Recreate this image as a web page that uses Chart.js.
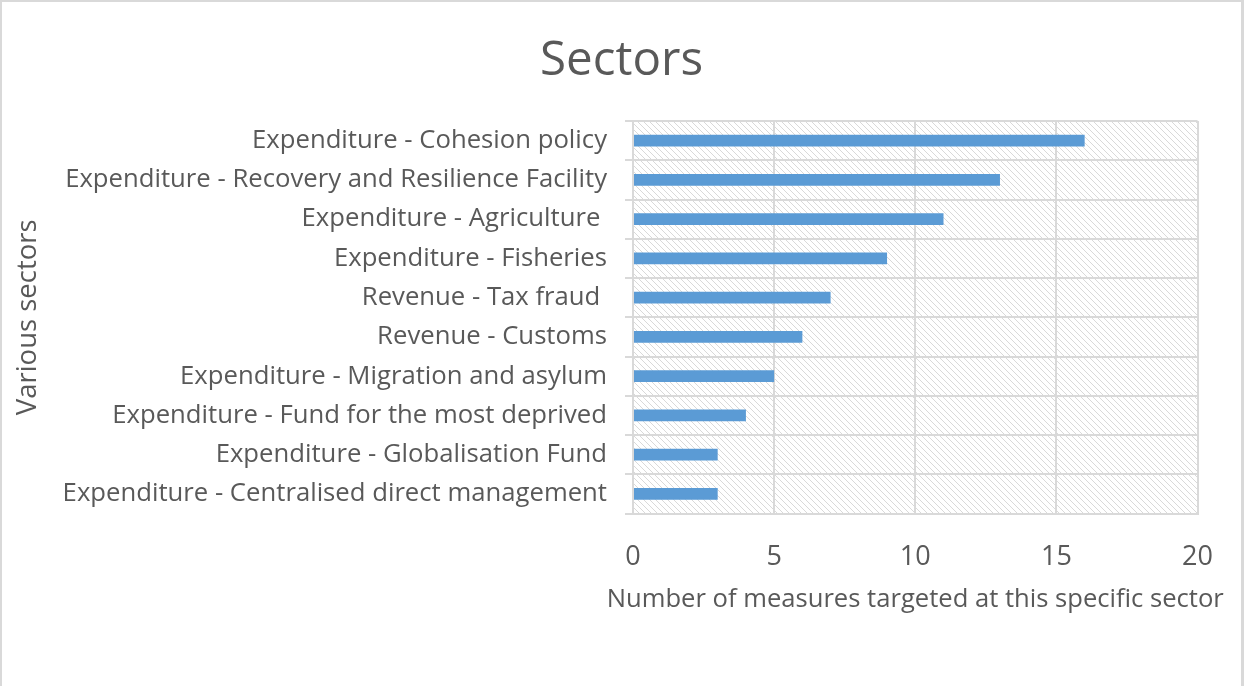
<!DOCTYPE html>
<html>
<head>
<meta charset="utf-8">
<script src="https://cdn.jsdelivr.net/npm/chart.js@4"></script>
<style>
  html, body { margin: 0; padding: 0; background: #fff; }
  .box { width: 1244px; height: 686px; box-sizing: border-box; border: 2px solid #d9d9d9; border-right-width: 3px; border-bottom: none; }
</style>
</head>
<body>
<div class="box"><canvas class="sectors"></canvas></div>
<script>
var sectors = [
  'Expenditure - Cohesion policy',
  'Expenditure - Recovery and Resilience Facility',
  'Expenditure - Agriculture ',
  'Expenditure - Fisheries',
  'Revenue - Tax fraud ',
  'Revenue - Customs',
  'Expenditure - Migration and asylum',
  'Expenditure - Fund for the most deprived',
  'Expenditure - Globalisation Fund',
  'Expenditure - Centralised direct management'
]
var measures = [16, 13, 11, 9, 7, 6, 5, 4, 3, 3]
var xTicks = [0, 5, 10, 15, 20]
var xTitle = 'Number of measures targeted at this specific sector'

var FONT = '"Open Sans", sans-serif'
var GREY = '#595959'
var LINE = '#d9d9d9'

// diagonal hatch behind the bars, like the excel plot area fill
function hatch() {
  var c = document.createElement('canvas')
  c.width = 6; c.height = 6
  var g = c.getContext('2d')
  g.strokeStyle = '#d9d9d9'
  g.lineWidth = 1
  g.beginPath()
  g.moveTo(0, 0); g.lineTo(6, 6)
  g.moveTo(-3, 3); g.lineTo(3, 9)
  g.moveTo(3, -3); g.lineTo(9, 3)
  g.stroke()
  return g.createPattern(c, 'repeat')
}

var plotFill = {
  id: 'plotFill',
  afterLayout: function(chart) {
    // center the title on the whole canvas, not on the padded box
    var t = chart.titleBlock
    if (t) { t.left = 0; t.right = chart.width; t.width = chart.width }
  },
  beforeDraw: function(chart) {
    var a = chart.chartArea, ctx = chart.ctx
    ctx.save()
    ctx.fillStyle = hatch()
    ctx.fillRect(a.left, a.top, a.right - a.left, a.bottom - a.top)
    ctx.restore()
  },
  afterDraw: function(chart) {
    // x title is wider than the plot in excel, chart.js would squeeze it
    var a = chart.chartArea, ctx = chart.ctx
    ctx.save()
    ctx.fillStyle = GREY
    ctx.font = '25.6px ' + FONT
    ctx.textAlign = 'center'
    ctx.textBaseline = 'middle'
    ctx.fillText(xTitle, (a.left + a.right) / 2, chart.scales.x.bottom - 2)
    ctx.restore()
  }
}

var ctx = document.querySelector('canvas.sectors').getContext('2d')
var chart = new Chart(ctx, {
  type: 'bar',
  data: {
    labels: sectors,
    datasets: [{
      data: measures,
      backgroundColor: '#5b9bd5',
      borderWidth: 0,
      categoryPercentage: 0.3,
      barPercentage: 1
    }]
  },
  options: {
    indexAxis: 'y',
    responsive: true,
    maintainAspectRatio: false,
    animation: false,
    layout: { padding: { top: 10, right: 40, bottom: 84, left: 6 } },
    plugins: {
      legend: { display: false },
      tooltip: { enabled: false },
      title: {
        display: true,
        text: 'Sectors',
        color: GREY,
        font: { family: FONT, size: 47.5, weight: 'normal' },
        padding: { top: 21, bottom: 31 }
      }
    },
    scales: {
      x: {
        min: 0, max: 20,
        afterBuildTicks: function(s) { s.ticks = xTicks.map(function(v) { return { value: v } }) },
        grid: { color: LINE, lineWidth: 2, drawTicks: false },
        border: { color: LINE, width: 2 },
        ticks: { color: GREY, font: { family: FONT, size: 27 }, padding: 28 }
      },
      y: {
        // long labels: chart.js caps the axis at half the width, so set it
        afterFit: function(s) { s.width = 625 },
        grid: { color: LINE, lineWidth: 2, tickLength: 8, offset: true },
        border: { color: LINE, width: 2 },
        ticks: { color: GREY, font: { family: FONT, size: 25.7 }, padding: 18, autoSkip: false },
        title: {
          display: true,
          text: 'Various sectors',
          color: GREY,
          font: { family: FONT, size: 27.5 },
          padding: { bottom: 10 }
        }
      }
    }
  },
  plugins: [plotFill]
})
</script>
</body>
</html>
